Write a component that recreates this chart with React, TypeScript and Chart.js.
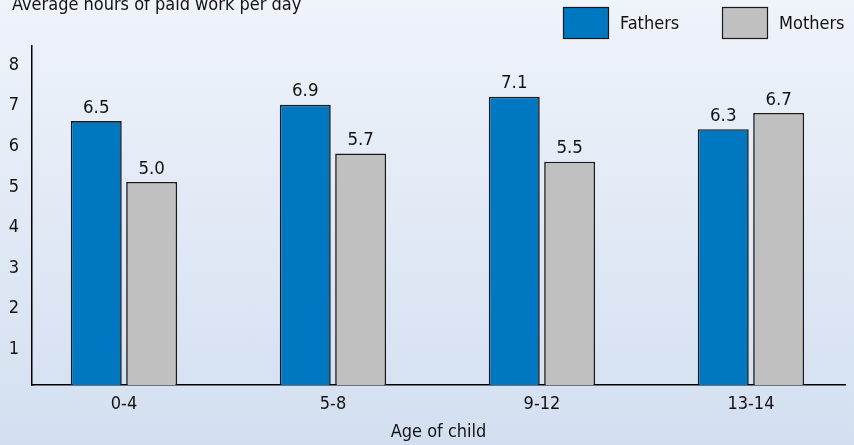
import React, { useEffect, useRef } from "react";
import { Chart, registerables } from "chart.js";

Chart.register(...registerables);

const categories = ["0-4", "5-8", "9-12", "13-14"];
const fathers = [6.5, 6.9, 7.1, 6.3];
const mothers = [5.0, 5.7, 5.5, 6.7];
const yTicks = [1, 2, 3, 4, 5, 6, 7, 8];

const FONT = "'Liberation Sans Narrow', 'DejaVu Sans Condensed', 'Noto Sans', sans-serif";
const BLUE = "#0078c1";
const GREY = "#c0c0c0";
const EDGE = "#1a1a1a";

// Title, legend and value labels painted on the canvas
const decorations = {
  id: "decorations",
  afterDatasetsDraw(chart: any) {
    const { ctx } = chart;
    ctx.save();
    ctx.fillStyle = "#111";
    ctx.font = `18.5px ${FONT}`;
    ctx.textAlign = "center";
    ctx.textBaseline = "bottom";
    chart.data.datasets.forEach((ds: any, di: number) => {
      const meta = chart.getDatasetMeta(di);
      meta.data.forEach((bar: any, i: number) => {
        const v = ds.data[i].y;
        ctx.fillText(v.toFixed(1), bar.x, bar.y - 4);
      });
    });
    ctx.restore();
  },
  afterDraw(chart: any) {
    const { ctx } = chart;
    ctx.save();
    ctx.fillStyle = "#111";
    ctx.font = `18px ${FONT}`;
    ctx.textAlign = "left";
    ctx.textBaseline = "alphabetic";
    ctx.fillText("Average hours of paid work per day", 12, 10);

    // legend
    const items = [
      { x: 563, label: chart.data.datasets[0].label, color: chart.data.datasets[0].backgroundColor },
      { x: 722, label: chart.data.datasets[1].label, color: chart.data.datasets[1].backgroundColor },
    ];
    ctx.font = `18px ${FONT}`;
    ctx.textBaseline = "middle";
    items.forEach((it) => {
      ctx.fillStyle = it.color;
      ctx.fillRect(it.x, 7, 46, 32);
      ctx.strokeStyle = EDGE;
      ctx.lineWidth = 1.2;
      ctx.strokeRect(it.x + 0.5, 7.5, 45, 31);
      ctx.fillStyle = "#111";
      ctx.fillText(it.label, it.x + 57, 24);
    });
    ctx.restore();
  },
};

export default function App() {
  const ref = useRef<HTMLCanvasElement>(null);

  useEffect(() => {
    if (!ref.current) return;
    const chart = new Chart(ref.current, {
      type: "bar",
      data: {
        datasets: [
          {
            label: "Fathers",
            data: fathers.map((v, i) => ({ x: i, y: v })),
            backgroundColor: BLUE,
            borderColor: EDGE,
            borderWidth: 1.6,
          },
          {
            label: "Mothers",
            data: mothers.map((v, i) => ({ x: i, y: v })),
            backgroundColor: GREY,
            borderColor: EDGE,
            borderWidth: 1.6,
          },
        ],
      },
      options: {
        animation: false,
        responsive: true,
        maintainAspectRatio: false,
        categoryPercentage: 0.53,
        barPercentage: 0.92,
        layout: { padding: { top: 46, right: 9, left: 0, bottom: 0 } },
        plugins: {
          legend: { display: false },
          tooltip: { enabled: false },
        },
        scales: {
          x: {
            type: "linear",
            offset: false,
            min: -0.44,
            max: 3.45,
            grid: { display: false, drawTicks: false, offset: false },
            border: { display: true, color: "#000", width: 1.5 },
            afterBuildTicks: (scale: any) => {
              scale.ticks = categories.map((_, i) => ({ value: i }));
            },
            afterFit: (scale: any) => {
              scale.height = 60;
            },
            ticks: {
              padding: 9,
              color: "#111",
              font: { family: FONT, size: 18 },
              callback: (v: any) => categories[Math.round(Number(v))] ?? "",
            },
            title: {
              display: true,
              text: "Age of child",
              color: "#111",
              font: { family: FONT, size: 18 },
              padding: { top: 0, bottom: 2 },
            },
          },
          y: {
            min: 0,
            max: 8.35,
            grid: { display: false, drawTicks: false },
            border: { display: true, color: "#000", width: 1.5 },
            afterBuildTicks: (scale: any) => {
              scale.ticks = yTicks.map((v) => ({ value: v }));
            },
            afterFit: (scale: any) => {
              scale.width = 32;
            },
            ticks: {
              padding: 13,
              labelOffset: 5,
              color: "#111",
              font: { family: FONT, size: 18 },
            },
          },
        },
      },
      plugins: [decorations],
    });
    return () => chart.destroy();
  }, []);

  return (
    <div
      style={{
        position: "fixed",
        left: 0,
        top: 0,
        width: 854,
        height: 445,
        background: "linear-gradient(#eff3fa, #d3dff0)",
      }}
    >
      <canvas ref={ref} />
    </div>
  );
}
